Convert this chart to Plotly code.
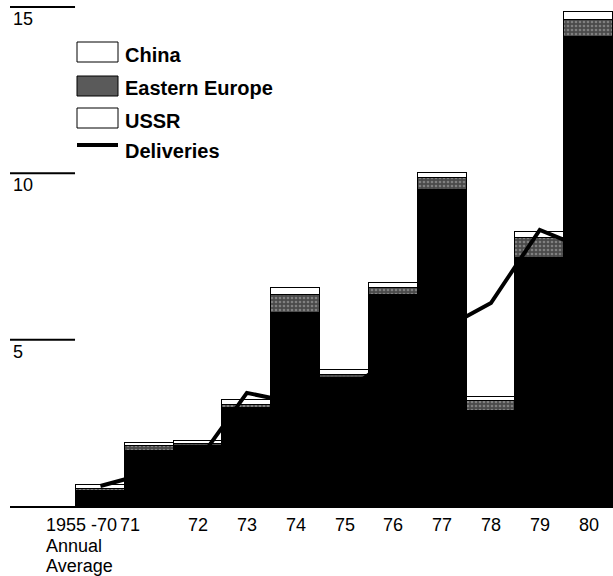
import plotly.graph_objects as go

# ---- data ----
categories = ["1955 -70", "71", "72", "73", "74", "75", "76", "77", "78", "79", "80"]
ussr = [0.45, 1.65, 1.8, 2.95, 5.8, 3.85, 6.35, 9.5, 2.85, 7.45, 14.1]
eastern_europe = [0.05, 0.15, 0.05, 0.1, 0.55, 0.1, 0.2, 0.35, 0.3, 0.6, 0.5]
china = [0.12, 0.1, 0.1, 0.15, 0.2, 0.15, 0.15, 0.15, 0.13, 0.2, 0.25]
deliveries = [0.6, 1.0, 1.35, 3.4, 3.1, 3.4, 4.5, 5.3, 6.1, 8.3, 7.7]
y_ticks = [5, 10, 15]
first_label_lines = ["1955 -70", "Annual", "Average"]

# ---- geometry ----
W, H = 613, 576
ML, MR, MT = 10, 0, 0
PH = 506
MB = H - MT - PH
PW = W - ML - MR
XMIN, XMAX = -1.852, 10.5
YMAX = 15.21
FONT = "Liberation Sans, Arial, Helvetica, sans-serif"

xs = list(range(len(categories)))

fig = go.Figure()
line_style = dict(color="black", width=1.5)
fig.add_trace(go.Bar(x=xs, y=ussr, name="USSR", width=1,
                     marker=dict(color="black", line=line_style), showlegend=False))
fig.add_trace(go.Bar(x=xs, y=eastern_europe, name="Eastern Europe", width=1,
                     marker=dict(color="#4a4a4a", line=line_style,
                                 pattern=dict(shape=".", fgcolor="#b5b5b5", size=4,
                                              solidity=0.35, fillmode="overlay")),
                     showlegend=False))
fig.add_trace(go.Bar(x=xs, y=china, name="China", width=1,
                     marker=dict(color="white", line=line_style), showlegend=False))
fig.add_trace(go.Scatter(x=xs, y=deliveries, name="Deliveries", mode="lines",
                         line=dict(color="black", width=4), showlegend=False))

shapes = []
annotations = []

def px(sx):
    return (sx - ML) / PW

def py(sy):
    return (MT + PH - sy) / PH

# y-axis tick lines and labels
for v in y_ticks:
    shapes.append(dict(type="line", xref="x", yref="y", x0=XMIN, x1=-0.52, y0=v, y1=v,
                       line=dict(color="black", width=2)))
    annotations.append(dict(x=XMIN, y=v, xref="x", yref="y", text=str(v), showarrow=False,
                            xanchor="left", yanchor="top", yshift=0, xshift=1,
                            font=dict(family=FONT, size=18, color="black")))

# x category labels
tick_font = dict(family=FONT, size=18, color="black")
for k, line in enumerate(first_label_lines):
    annotations.append(dict(x=-0.5, y=0, xref="x", yref="y", text=line, showarrow=False,
                            xanchor="left", yanchor="top", xshift=-32,
                            yshift=-7 - 20.5 * k, font=tick_font))
for i, c in enumerate(categories):
    if i == 0:
        continue
    shift = -19 if i == 1 else 0
    annotations.append(dict(x=i, y=0, xref="x", yref="y", text=c, showarrow=False,
                            xanchor="center", yanchor="top", xshift=shift, yshift=-7,
                            font=tick_font))

# manual legend (pixel positions)
legend_rows = [
    ("China", "box_white", 52, 55),
    ("Eastern Europe", "box_grey", 86, 88),
    ("USSR", "box_white", 118, 121),
    ("Deliveries", "line", 145, 151),
]
for label, kind, yc, ty in legend_rows:
    if kind == "line":
        shapes.append(dict(type="line", xref="paper", yref="paper",
                           x0=px(77), x1=px(118), y0=py(yc), y1=py(yc),
                           line=dict(color="black", width=4)))
    else:
        fill = "white" if kind == "box_white" else "#5a5a5a"
        shapes.append(dict(type="rect", xref="paper", yref="paper",
                           x0=px(77), x1=px(118), y0=py(yc + 10), y1=py(yc - 10),
                           fillcolor=fill, line=dict(color="black", width=1)))
    annotations.append(dict(x=px(123), y=py(ty), xref="paper", yref="paper", text=label,
                            showarrow=False, xanchor="left", yanchor="middle",
                            font=dict(family=FONT, size=20, color="black", weight="bold")))

fig.update_layout(
    width=W, height=H,
    margin=dict(l=ML, r=MR, t=MT, b=MB, pad=0),
    barmode="stack", bargap=0,
    plot_bgcolor="white", paper_bgcolor="white",
    xaxis=dict(range=[XMIN, XMAX], showgrid=False, zeroline=False, showticklabels=False,
               ticks="", showline=True, linecolor="black", linewidth=2, fixedrange=True),
    yaxis=dict(range=[0, YMAX], showgrid=False, zeroline=False, showticklabels=False,
               ticks="", showline=False, fixedrange=True),
    shapes=shapes,
    annotations=annotations,
    showlegend=False,
)

fig.write_html(
    "out.html",
    config={"displayModeBar": False},
    post_script="document.body.style.margin='0';document.body.style.overflow='hidden';",
)
